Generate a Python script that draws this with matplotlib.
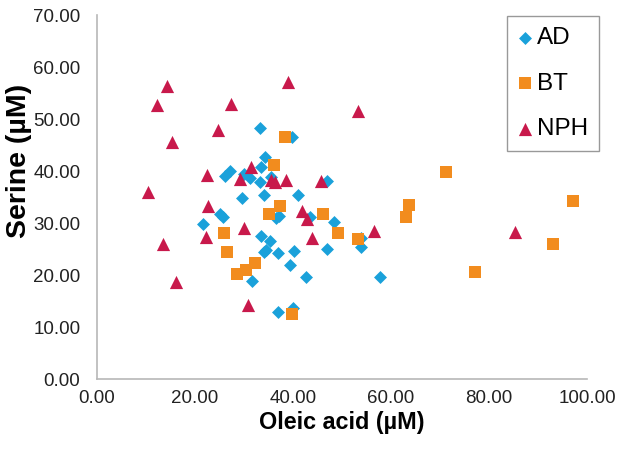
import matplotlib
matplotlib.use("Agg")
import matplotlib.pyplot as plt

plt.rcParams['font.family'] = ['Liberation Sans', 'DejaVu Sans']

# AD (diamonds)
ad_x = [33.2, 39.8, 34.3, 33.5, 27.2, 26.2, 29.9, 31.2, 33.3, 35.6, 46.9, 29.5,
        34.1, 41.0, 25.1, 25.8, 21.6, 37.2, 43.4, 48.3, 53.9, 53.8, 33.5, 35.3,
        34.5, 34.1, 37.0, 40.3, 46.9, 39.4, 42.7, 57.8, 31.6, 37.0, 39.9, 36.6]
ad_y = [48.2, 46.5, 42.7, 40.8, 40.0, 39.1, 39.5, 38.6, 37.9, 38.8, 38.0, 34.8,
        35.4, 35.4, 31.8, 31.1, 29.9, 31.3, 31.2, 30.2, 27.2, 25.4, 27.5, 26.6,
        24.9, 24.4, 24.3, 24.7, 25.0, 21.9, 19.6, 19.7, 18.8, 12.8, 13.6, 30.9]

# BT (squares)
bt_x = [38.4, 36.2, 37.3, 35.0, 46.1, 49.2, 53.3, 63.7, 63.1, 71.3, 97.1, 93.1,
        77.2, 26.0, 26.6, 32.2, 30.5, 28.6, 39.8]
bt_y = [46.6, 41.2, 33.2, 31.7, 31.8, 28.0, 27.0, 33.5, 31.1, 39.8, 34.2, 26.0,
        20.6, 28.0, 24.5, 22.4, 21.0, 20.2, 12.5]

# NPH (triangles)
nph_x = [14.2, 12.2, 27.4, 39.0, 53.2, 15.4, 24.6, 10.5, 22.4, 31.4, 29.1, 35.5,
         36.4, 38.5, 45.7, 22.7, 41.9, 42.8, 29.9, 22.2, 13.5, 43.9, 56.6, 85.3,
         16.2, 30.9]
nph_y = [56.3, 52.6, 52.9, 57.2, 51.6, 45.6, 47.9, 36.0, 39.2, 40.8, 38.5, 38.3,
         37.8, 38.3, 38.1, 33.3, 32.3, 30.7, 29.0, 27.3, 25.9, 27.1, 28.5, 28.3,
         18.6, 14.2]

x_ticks = [0, 20, 40, 60, 80, 100]
y_ticks = [0, 10, 20, 30, 40, 50, 60, 70]

fig = plt.figure(figsize=(6.38, 4.49), dpi=100)
ax = fig.add_axes([97/638, 1-379/449, (587-97)/638, (379-15)/449])

ax.scatter(ad_x, ad_y, marker='D', s=6.6**2, color='#1aa1da', linewidths=0, label='AD', zorder=3)
ax.scatter(bt_x, bt_y, marker='s', s=9**2, color='#f28c1e', linewidths=0, label='BT', zorder=3)
ax.scatter(nph_x, nph_y, marker='^', s=9.5**2, color='#c8194b', linewidths=0, label='NPH', zorder=3)

ax.set_xlim(0, 100)
ax.set_ylim(0, 70)
ax.set_xticks(x_ticks)
ax.set_yticks(y_ticks)
ax.set_xticklabels([f"{v:.2f}" for v in x_ticks])
ax.set_yticklabels([f"{v:.2f}" for v in y_ticks])
ax.tick_params(axis='y', length=0, labelsize=13.5, colors='#222222', pad=12)
ax.tick_params(axis='x', length=0, labelsize=13.5, colors='#222222', pad=8)

for s in ['top', 'right']:
    ax.spines[s].set_visible(False)
for s in ['left', 'bottom']:
    ax.spines[s].set_color('#b8b8b8')
    ax.spines[s].set_linewidth(1.2)

ax.set_xlabel('Oleic acid (µM)', fontsize=16.8, fontweight='bold', labelpad=3)
ax.set_ylabel('Serine (µM)', fontsize=20.5, fontweight='bold')
ax.yaxis.set_label_coords(-0.133, 0.60)

leg = fig.legend(loc='upper left', bbox_to_anchor=(507/638, 1-16/449),
                 borderaxespad=0, fontsize=17.5, frameon=True, fancybox=False,
                 labelspacing=0.97, handletextpad=0.2, handlelength=0.6,
                 borderpad=0.45, markerscale=1.0)
leg.get_frame().set_edgecolor('#808080')
leg.get_frame().set_linewidth(1.0)

fig.savefig('out.png', dpi=100)
